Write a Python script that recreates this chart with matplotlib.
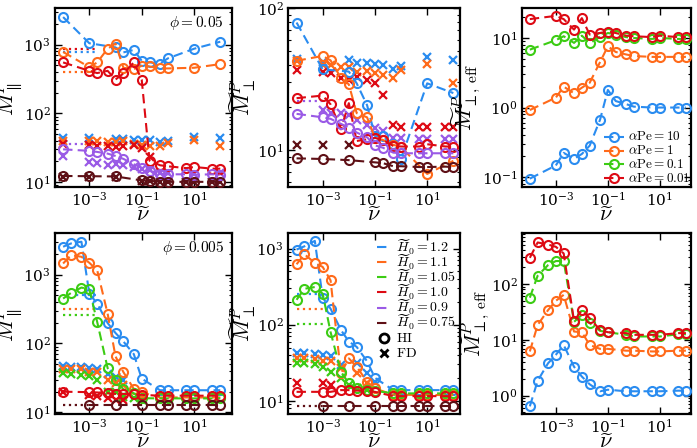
import numpy as np
import matplotlib
matplotlib.use('Agg')
import matplotlib.pyplot as plt
from matplotlib.ticker import LogLocator, FixedLocator, NullLocator, NullFormatter, LogFormatterSciNotation
from matplotlib.lines import Line2D

plt.rcParams['mathtext.fontset'] = 'cm'
plt.rcParams['font.family'] = ['DejaVu Serif']

nan = np.nan

# ---------------- x grids ----------------
nu_top = [1e-4, 1e-3, 2e-3, 5e-3, 1e-2, 2e-2, 5e-2, 0.1, 0.2, 0.5, 1, 5, 10, 50, 100]
nu_bot = [1e-4, 2e-4, 5e-4, 1e-3, 2e-3, 5e-3, 1e-2, 2e-2, 5e-2, 0.1, 0.5, 1, 5, 10, 50, 100]

# ---------------- phi = 0.05, M_par ----------------
tl_HI_blue   = [2510, 1045, nan, nan, 910, 770, 835, 580, 550, 530, 630, nan, 870, nan, 1100]
tl_HI_orange = [780, 470, 550, 870, 1030, 460, 440, 490, 480, 450, 450, nan, 460, nan, 520]
tl_HI_red    = [550, 415, 385, 415, 310, 380, 550, 310, 20.5, 17.6, 17, 16, 16.6, 15.7, 15.7]
tl_HI_purple = [30, 28.5, 27.5, 26, 24, 21.8, 18.2, 16.2, 14.6, 13.3, 13, 13, 12.8, 13, 12.8]
tl_HI_brown  = [12.3, 12.2, nan, nan, 12.1, nan, nan, 10.6, 10.5, 10.1, 10.1, 10.1, 10.1, 10.1, 10.1]
tl_FD_blue   = [43.5, 44, nan, nan, 43, 42, 41.5, 41, 40.5, 38, 39, nan, 45, nan, 44.5]
tl_FD_orange = [40, 39, 40, 38, 38.5, 39, 36, 35, 34, 33, 37, nan, 41, nan, 33.5]
tl_FD_red    = [36, 35, 33.5, 33, 32, 33.5, 34.5, 31, 23, nan, nan, nan, nan, nan, nan]
tl_FD_purple = [24, 19.5, 19.2, 17.8, 18.2, 17.5, 16.4, 15.5, 14.8, 13.8, 13.6, nan, 13.3, nan, 13.5]
tl_FD_brown  = [12, 12, nan, nan, 12, nan, nan, 10.5, 10.4, 10, 10, 10, 10, 10, 10]
tl_ref = {'red': 860, 'blue': 780, 'orange': 400, 'purple': 35.5}

# ---------------- phi = 0.05, M_perp ----------------
tm_HI_blue   = [79, 37, nan, nan, 35.7, 29.5, 20.7, 12.6, 12.5, 11, 8.7, nan, 29.5, nan, 25.2]
tm_HI_orange = [42.5, 46, 42.8, 32.2, 29, 18.2, 17, 12.2, 11.8, 10.9, 10.5, nan, 6.8, nan, 8.4]
tm_HI_red    = [23.2, 24.2, 21, 14, 21.4, 11.6, 11.9, 12.2, 11.8, 10.7, 10.6, 10.6, 11, 10.6, 10.6]
tm_HI_purple = [18, 17, 16.6, 15.3, 14.4, 13.3, 12.3, 10.8, 10.4, 9.6, 9.5, 9.5, 9.5, 9.5, 9.5]
tm_HI_brown  = [8.75, 8.66, nan, nan, 8.5, nan, nan, 8.2, 8.1, 7.7, 7.7, 7.6, 7.6, 7.65, 7.6]
tm_FD_blue   = [44, 41.7, nan, nan, 42.8, 41, 41, 40.2, 40, 37.5, 38.9, nan, 45.3, nan, 42.8]
tm_FD_orange = [42.3, 40, 39.4, 38.5, 38.5, 35.5, 35.9, 35, 33.7, 32, 36.6, nan, 40.2, nan, 29.5]
tm_FD_red    = [36.6, 35.5, 34.6, 32, 31.1, 32.5, 31.1, 29.5, 24.5, 14.9, 14.6, 14.6, 14.6, 14.6, 14.6]
tm_FD_purple = [nan, 19.3, 18.2, 18.2, 17.8, 16.4, 15.1, 14.4, 13.6, 12.2, 12.2, 11.9, 11.9, 11.9, 11.9]
tm_FD_brown  = [10.9, 10.9, nan, nan, 10.9, nan, nan, nan, nan, nan, nan, nan, nan, nan, nan]
tm_ref = {'purple': 22.3}

# ---------------- phi = 0.05, M_perp,eff ----------------
tr_red    = [18.7, 20.8, 18.7, 13.2, 19.3, 11.2, 11.8, 12.4, 11.8, 10.8, 10.6, 10.3, 10.8, 10.3, 10.3]
tr_green  = [6.8, 9.3, 10.6, 8.5, 10.8, 8.5, 10.3, 11.8, 11.2, 10.3, 10.0, 9.7, 10.0, 9.7, 9.7]
tr_orange = [0.92, 1.39, 2.0, 1.6, 1.93, 2.27, 4.5, 7.6, 6.3, 5.8, 5.5, 5.35, 5.35, 5.35, 5.35]
tr_blue   = [0.095, 0.147, 0.223, 0.183, 0.215, 0.283, 0.667, 1.79, 1.24, 1.12, 1.03, 1.0, 1.0, 1.0, 1.0]

# ---------------- phi = 0.005, M_par ----------------
bl_HI_blue   = [2530, 2820, 2990, 530, 379, 198, 142, 107, 70, 31, 21, 21, 21, 21, 21, 21]
bl_HI_orange = [1445, 1910, 1807, 1480, 1155, 271, 65, 38.5, 22, 19.5, 16.5, 16.5, 16.5, 16.5, 16.5, 16.5]
bl_HI_green  = [448, 541, 647, 611, 205, 44, 29.7, 21.7, 19, 16.1, 16, 16, 16, 16, 16, 16]
bl_HI_red    = [20, nan, nan, 19.7, 19.5, 19, 18.6, 18.6, 18.3, 18, 17.5, 17.5, 17.5, 17.5, 17.5, 17.5]
bl_HI_brown  = [nan, nan, nan, 12.7, nan, nan, 12.7, nan, nan, 12.7, 12.7, 12.7, 12.7, 12.7, 12.7, 12.7]
bl_FD_blue   = [47, 46, 46, 44, 43, 36, 33, 30, nan, nan, nan, nan, nan, nan, nan, nan]
bl_FD_orange = [43, 42, 42, 39, 38, 30, 27, 25, nan, nan, nan, nan, nan, nan, nan, nan]
bl_FD_green  = [37, 36, 35, 33.6, 30, 20, 20, 17, 16, 15.2, nan, nan, nan, nan, nan, nan]
bl_FD_red    = [20, nan, nan, 18, 17.5, 16, 15.2, 15, nan, nan, nan, nan, nan, nan, nan, nan]
bl_ref = {'blue': (3e-4, 500), 'orange': (1e-4, 320), 'green': (1e-4, 256), 'brown': (1e-4, 12.7)}

# ---------------- phi = 0.005, M_perp ----------------
bm_HI_blue   = [970, 1070, 1260, 226, 162, 85, 60, 51, 33, 20, 13.8, 13.8, 13.8, 13.8, 13.8, 13.8]
bm_HI_orange = [621, 841, 647, 573, 382, 23, 36, 28, 17.8, 14.5, 12, 12, 11.9, 11.9, 11.9, 11.9]
bm_HI_green  = [212, 296, 312, 255, 80, 24, 16.9, 14.5, 13.8, 13.5, 12.5, 12.5, 12.5, 12.5, 12.5, 12.5]
bm_HI_red    = [13.1, nan, nan, 13.1, 13.1, 13.8, 13.8, 13.6, 13.6, 13.1, 11.5, 11.5, 11.5, 11.5, 11.5, 11.5]
bm_HI_brown  = [nan, nan, nan, 8.6, nan, nan, 8.6, nan, nan, 8.6, 8.6, 8.6, 8.6, 8.6, 8.6, 8.6]
bm_FD_blue   = [42, 42, 41, 40, 39, 29.5, nan, 31, 23, 17.8, nan, nan, nan, nan, nan, nan]
bm_FD_orange = [36, 36, 35, 33.6, 33, 26.7, nan, 23, 16.9, nan, nan, nan, nan, nan, nan, nan]
bm_FD_green  = [31, 31, 30, 28, 24, 19.7, 16, 14.5, 13.8, nan, nan, nan, nan, nan, nan, nan]
bm_FD_red    = [17.2, nan, nan, 17.2, 16, nan, nan, nan, nan, nan, nan, nan, nan, nan, nan, nan]
bm_ref = {'blue': (1e-4, 255), 'orange': (1e-4, 162), 'green': (1e-4, 102), 'brown': (1e-4, 8.6)}

# ---------------- phi = 0.005, M_perp,eff ----------------
br_blue   = [0.645, 1.85, 3.8, 5.4, 8.1, 3.3, 2.2, 1.6, 1.2, 1.28, 1.2, 1.2, 1.2, 1.2, 1.23, 1.23]
br_orange = [6.2, 18.5, 34, 50, 64, 14.1, 13.7, 8.1, 6.9, 6.9, 6.4, 6.4, 6.2, 6.2, 6.4, 6.4]
br_green  = [57, 141, 218, 258, 258, 21, 28, 19.9, 14.5, 13.7, 12.3, 11.5, 11.5, 11.5, 12.6, 12.6]
br_red    = [295, 555, 510, 464, 353, 21.8, 34, 24.4, 15.1, 13.7, 13.2, 12.3, 12.3, 12.3, 13.2, 13.2]

H0_labels = ['1.2', '1.1', '1.05', '1.0', '0.9', '0.75']
aPe_labels = ['10', '1', '0.1', '0.01']

COL = {'blue': '#2a8cf0', 'orange': '#ff6a1a', 'green': '#3ccc14',
       'red': '#dd0a14', 'purple': '#9a5ae6', 'brown': '#5e1016'}
H0_colors = ['blue', 'orange', 'green', 'red', 'purple', 'brown']
aPe_colors = ['blue', 'orange', 'green', 'red']

DASH = (0, (4.5, 2.5))
MS = 6.5
MSX = 6
LW = 1.5


def hi(ax, x, y, c, zo=3):
    x = np.asarray(x, float); y = np.asarray(y, float)
    m = np.isfinite(y)
    ax.plot(x[m], y[m], ls=DASH, lw=LW, color=COL[c], marker='o', ms=MS,
            mfc='none', mew=1.5, zorder=zo)


def fd(ax, x, y, c, zo=2):
    x = np.asarray(x, float); y = np.asarray(y, float)
    m = np.isfinite(y)
    ax.plot(x[m], y[m], ls='none', color=COL[c], marker='x', ms=MSX, mew=1.6, zorder=zo)


def ref(ax, x0, x1, v, c):
    ax.plot([x0, x1], [v, v], ls=':', lw=1.6, color=COL[c], zorder=1)


def style(ax, xlim, ylim):
    ax.set_xscale('log'); ax.set_yscale('log')
    ax.set_xlim(*xlim)
    ax.set_ylim(*ylim)
    ax.xaxis.set_major_locator(FixedLocator([1e-3, 1e-1, 1e1]))
    ax.xaxis.set_major_formatter(LogFormatterSciNotation())
    ax.xaxis.set_minor_locator(NullLocator())
    ax.yaxis.set_major_locator(LogLocator(base=10))
    ax.yaxis.set_minor_locator(LogLocator(base=10, subs=np.arange(2, 10)))
    ax.yaxis.set_minor_formatter(NullFormatter())
    ax.tick_params(which='both', direction='in', top=True, right=True, labelsize=11, pad=3)
    ax.tick_params(which='major', length=5, width=1)
    ax.tick_params(which='minor', length=2.5, width=0.8)
    for s in ax.spines.values():
        s.set_linewidth(1.6)
    ax.set_xlabel(r'$\widetilde{\nu}$', fontsize=16, labelpad=-4)


def manual_legend(ax, items, x_handle, x_text, y_top, dy, fs):
    """items: list of (kind, color, label); kind in 'line', 'lineo', 'o', 'x'."""
    tr = ax.transAxes
    for i, (kind, c, lab) in enumerate(items):
        y = y_top - i * dy
        x0, x1 = x_handle
        xm = 0.5 * (x0 + x1)
        if kind in ('line', 'lineo'):
            ax.add_line(Line2D([x0, x1], [y, y], transform=tr, ls=DASH, lw=LW, color=c,
                               clip_on=False, zorder=5))
        if kind in ('lineo', 'o'):
            ax.add_line(Line2D([xm], [y], transform=tr, ls='none', marker='o', ms=MS,
                               mfc='none', mew=1.5 if kind == 'lineo' else 2, color=c,
                               clip_on=False, zorder=5))
        if kind == 'x':
            ax.add_line(Line2D([xm], [y], transform=tr, ls='none', marker='x', ms=MSX,
                               mew=2, color=c, clip_on=False, zorder=5))
        ax.text(x_text, y, lab, transform=tr, ha='left', va='center', fontsize=fs, zorder=5)


fig = plt.figure(figsize=(6.97, 4.48), dpi=100)
W, H = 697.0, 448.0
cols = [(55, 232, (4.9e-5, 280)), (288, 460, (4.7e-5, 180)), (522, 691, (5.0e-5, 157))]
rows = [(8, 187), (233, 414)]


def mk(col, row):
    l, r, xl = cols[col]; t, b = rows[row]
    a = fig.add_axes([l / W, 1 - b / H, (r - l) / W, (b - t) / H])
    return a, xl


YLFS = 16

# ---- top-left ----
ax, xl = mk(0, 0)
style(ax, xl, (8.5, 3400))
for c, v in tl_ref.items():
    ref(ax, 1e-4, 2e-3, v, c)
for y, c in [(tl_FD_blue, 'blue'), (tl_FD_orange, 'orange'), (tl_FD_red, 'red'),
             (tl_FD_purple, 'purple'), (tl_FD_brown, 'brown')]:
    fd(ax, nu_top, y, c)
for y, c in [(tl_HI_blue, 'blue'), (tl_HI_orange, 'orange'), (tl_HI_red, 'red'),
             (tl_HI_purple, 'purple'), (tl_HI_brown, 'brown')]:
    hi(ax, nu_top, y, c)
ax.set_ylabel(r'$\widetilde{M}^P_\parallel$', fontsize=YLFS, labelpad=-1)
ax.text(0.955, 0.965, r'$\phi = 0.05$', transform=ax.transAxes, ha='right', va='top', fontsize=11)

# ---- top-middle ----
ax, xl = mk(1, 0)
style(ax, xl, (5.5, 100))
for c, v in tm_ref.items():
    ref(ax, 1e-4, 2e-3, v, c)
for y, c in [(tm_FD_blue, 'blue'), (tm_FD_orange, 'orange'), (tm_FD_red, 'red'),
             (tm_FD_purple, 'purple'), (tm_FD_brown, 'brown')]:
    fd(ax, nu_top, y, c)
for y, c in [(tm_HI_blue, 'blue'), (tm_HI_orange, 'orange'), (tm_HI_red, 'red'),
             (tm_HI_purple, 'purple'), (tm_HI_brown, 'brown')]:
    hi(ax, nu_top, y, c)
ax.set_ylabel(r'$\widetilde{M}^P_\perp$', fontsize=YLFS, labelpad=-1)

# ---- top-right ----
ax, xl = mk(2, 0)
style(ax, xl, (0.072, 27))
for y, c in [(tr_blue, 'blue'), (tr_orange, 'orange'), (tr_green, 'green'), (tr_red, 'red')]:
    hi(ax, nu_top, y, c)
manual_legend(ax, [('lineo', COL[c], r'$\alpha\mathrm{Pe} = %s$' % lab)
                   for c, lab in zip(aPe_colors, aPe_labels)],
              x_handle=(0.485, 0.604), x_text=0.625, y_top=0.281, dy=0.0775, fs=9.5)
ax.set_ylabel(r'$\widetilde{M}^P_{\perp,\,\mathrm{eff}}$', fontsize=YLFS, labelpad=-1)

# ---- bottom-left ----
ax, xl = mk(0, 1)
style(ax, xl, (9.5, 4000))
for c, (x0, v) in bl_ref.items():
    ref(ax, x0, 2e-3, v, c)
for y, c in [(bl_FD_blue, 'blue'), (bl_FD_orange, 'orange'), (bl_FD_green, 'green'),
             (bl_FD_red, 'red')]:
    fd(ax, nu_bot, y, c)
for y, c in [(bl_HI_blue, 'blue'), (bl_HI_orange, 'orange'), (bl_HI_green, 'green'),
             (bl_HI_red, 'red'), (bl_HI_brown, 'brown')]:
    hi(ax, nu_bot, y, c)
ax.set_ylabel(r'$\widetilde{M}^P_\parallel$', fontsize=YLFS, labelpad=-1)
ax.text(0.955, 0.965, r'$\phi = 0.005$', transform=ax.transAxes, ha='right', va='top', fontsize=11)

# ---- bottom-middle ----
ax, xl = mk(1, 1)
style(ax, xl, (6.7, 1600))
for c, (x0, v) in bm_ref.items():
    ref(ax, x0, 1e-3, v, c)
for y, c in [(bm_FD_blue, 'blue'), (bm_FD_orange, 'orange'), (bm_FD_green, 'green'),
             (bm_FD_red, 'red')]:
    fd(ax, nu_bot, y, c)
for y, c in [(bm_HI_blue, 'blue'), (bm_HI_orange, 'orange'), (bm_HI_green, 'green'),
             (bm_HI_red, 'red'), (bm_HI_brown, 'brown')]:
    hi(ax, nu_bot, y, c)
ax.set_ylabel(r'$\widetilde{M}^P_\perp$', fontsize=YLFS, labelpad=-1)
items = [('line', COL[c], r'$\widetilde{H}_0 = %s$' % h) for c, h in zip(H0_colors, H0_labels)]
items += [('o', 'k', r'$\mathrm{HI}$'), ('x', 'k', r'$\mathrm{FD}$')]
manual_legend(ax, items, x_handle=(0.515, 0.597), x_text=0.63, y_top=0.922, dy=0.0835, fs=10)

# ---- bottom-right ----
ax, xl = mk(2, 1)
style(ax, xl, (0.47, 820))
for y, c in [(br_blue, 'blue'), (br_orange, 'orange'), (br_green, 'green'), (br_red, 'red')]:
    hi(ax, nu_bot, y, c)
ax.set_ylabel(r'$\widetilde{M}^P_{\perp,\,\mathrm{eff}}$', fontsize=YLFS, labelpad=-1)

fig.savefig('out.png', dpi=100)
